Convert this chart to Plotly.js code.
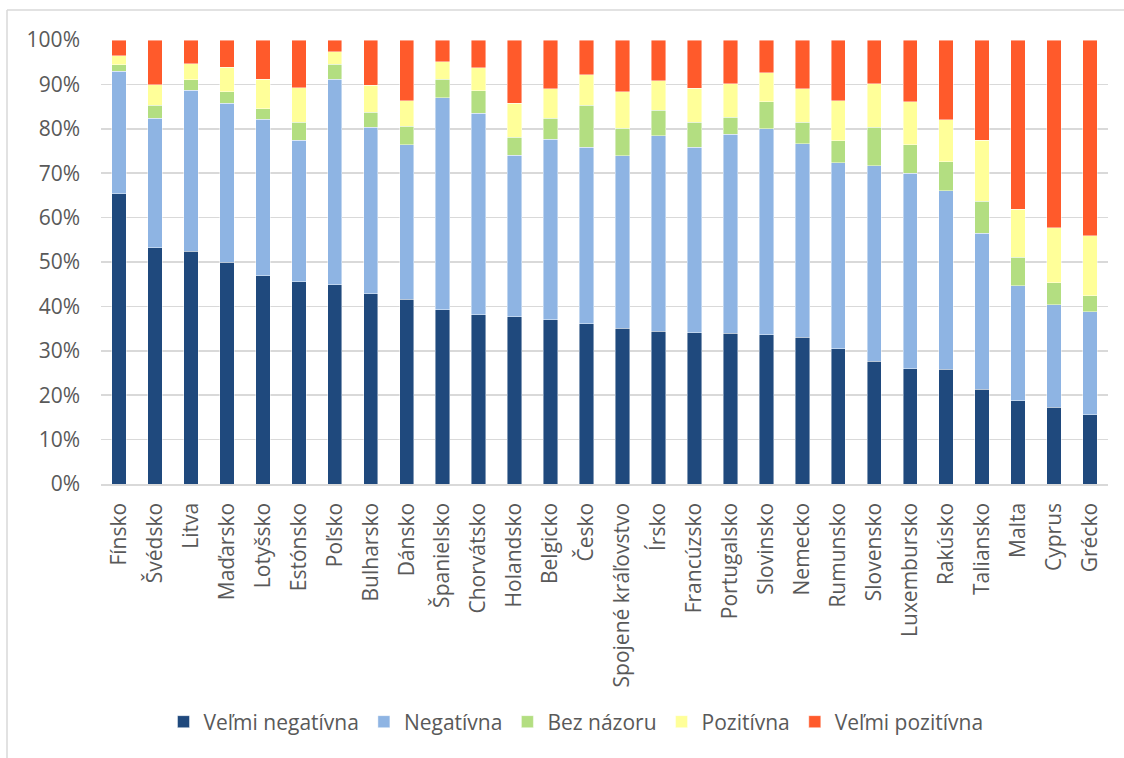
<!DOCTYPE html>
<html>
<head>
<meta charset="utf-8">
<script src="https://cdn.plot.ly/plotly-3.0.1.min.js"></script>
<style>
  html, body { margin: 0; padding: 0; background: #fff; }
  #chart { width: 1124px; height: 758px; }
</style>
</head>
<body>
<div id="chart"></div>
<script>
// Countries, ordered by share of "very negative" answers
const countries = [
  "Fínsko", "Švédsko", "Litva", "Maďarsko", "Lotyšsko", "Estónsko", "Poľsko",
  "Bulharsko", "Dánsko", "Španielsko", "Chorvátsko", "Holandsko", "Belgicko",
  "Česko", "Spojené kráľovstvo", "Írsko", "Francúzsko", "Portugalsko",
  "Slovinsko", "Nemecko", "Rumunsko", "Slovensko", "Luxembursko", "Rakúsko",
  "Taliansko", "Malta", "Cyprus", "Grécko"
];

// Shares of answers per country (%)
const velmiNegativna = [65.4, 53.2, 52.4, 50.0, 46.9, 45.6, 44.9, 42.9, 41.6, 39.2, 38.1, 37.7, 37.0, 36.1, 35.1, 34.4, 34.1, 33.9, 33.6, 33.0, 30.5, 27.7, 26.0, 25.9, 21.3, 18.8, 17.3, 15.6];
const negativna      = [27.6, 29.2, 36.3, 35.8, 35.2, 31.8, 46.3, 37.5, 34.8, 47.8, 45.4, 36.3, 40.6, 39.7, 38.8, 44.0, 41.7, 44.9, 46.4, 43.6, 41.9, 44.0, 44.0, 40.2, 35.2, 25.9, 23.1, 23.2];
const bezNazoru      = [1.4, 2.9, 2.3, 2.5, 2.4, 4.1, 3.3, 3.3, 4.2, 4.2, 5.1, 4.1, 4.8, 9.5, 6.2, 5.8, 5.7, 3.8, 6.1, 4.9, 4.9, 8.6, 6.4, 6.5, 7.2, 6.4, 4.9, 3.6];
const pozitivna      = [2.1, 4.6, 3.7, 5.6, 6.7, 7.8, 2.9, 6.1, 5.7, 3.9, 5.2, 7.6, 6.6, 6.9, 8.3, 6.6, 7.6, 7.6, 6.5, 7.5, 9.0, 9.9, 9.7, 9.4, 13.7, 10.8, 12.4, 13.5];
const velmiPozitivna = [3.5, 10.1, 5.3, 6.1, 8.8, 10.7, 2.6, 10.2, 13.7, 4.9, 6.2, 14.3, 11.0, 7.8, 11.6, 9.2, 10.9, 9.8, 7.4, 11.0, 13.7, 9.8, 13.9, 18.0, 22.6, 38.1, 42.3, 44.1];

const yTicks = [0, 10, 20, 30, 40, 50, 60, 70, 80, 90, 100];
const yTickLabels = yTicks.map(v => v + "%");

const series = [
  { name: "Veľmi negatívna", values: velmiNegativna, color: "#1F497D" },
  { name: "Negatívna",       values: negativna,      color: "#8EB4E3" },
  { name: "Bez názoru",      values: bezNazoru,      color: "#B3DE81" },
  { name: "Pozitívna",       values: pozitivna,      color: "#FFFF99" },
  { name: "Veľmi pozitívna", values: velmiPozitivna, color: "#FF5A2B" }
];

const traces = series.map(s => ({
  type: "bar",
  name: s.name,
  x: countries,
  y: s.values,
  marker: { color: s.color, line: { color: "rgba(255,255,255,0.55)", width: 0.8 } },
  hoverinfo: "x+y+name"
}));

const W = 1124, H = 758;
const M = { l: 101, r: 16, t: 40, b: 274 };
const plotW = W - M.l - M.r, plotH = H - M.t - M.b;
// convert pixel positions on the page to paper coordinates
const px = x => (x - M.l) / plotW;
const py = y => (H - M.b - y) / plotH;

const fontFamily = "'Open Sans', 'Noto Sans', sans-serif";
const textColor = "#595959";
const fontSize = 21;

const layout = {
  width: W,
  height: H,
  margin: M,
  paper_bgcolor: "#ffffff",
  plot_bgcolor: "#ffffff",
  barmode: "stack",
  bargap: 0.6,
  font: { family: fontFamily, size: fontSize, color: textColor },
  xaxis: {
    type: "category",
    tickangle: -90,
    tickfont: { family: fontFamily, size: fontSize, color: textColor },
    showgrid: false,
    showline: true,
    linecolor: "#D9D9D9",
    linewidth: 1.5,
    ticks: "",
    ticklabelstandoff: 9,
    fixedrange: true
  },
  yaxis: {
    range: [0, 100],
    tickvals: yTicks,
    ticktext: yTickLabels,
    tickfont: { family: fontFamily, size: fontSize, color: textColor },
    showgrid: true,
    gridcolor: "#D9D9D9",
    gridwidth: 1.5,
    zeroline: false,
    showline: false,
    ticks: "",
    ticklabelstandoff: 20,
    fixedrange: true
  },
  legend: {
    orientation: "h",
    x: px(576),
    xanchor: "center",
    y: py(722),
    yanchor: "middle",
    font: { family: fontFamily, size: fontSize, color: textColor },
    itemwidth: 30,
    traceorder: "normal"
  },
  // chart frame: left and top edges
  shapes: [
    { type: "line", xref: "paper", yref: "paper", x0: px(7), x1: px(7), y0: py(10), y1: py(760),
      line: { color: "#D9D9D9", width: 1.5 } },
    { type: "line", xref: "paper", yref: "paper", x0: px(7), x1: px(1126), y0: py(10), y1: py(10),
      line: { color: "#D9D9D9", width: 1.5 } }
  ],
  showlegend: true
};

Plotly.newPlot("chart", traces, layout, { displayModeBar: false, staticPlot: true });
</script>
</body>
</html>
